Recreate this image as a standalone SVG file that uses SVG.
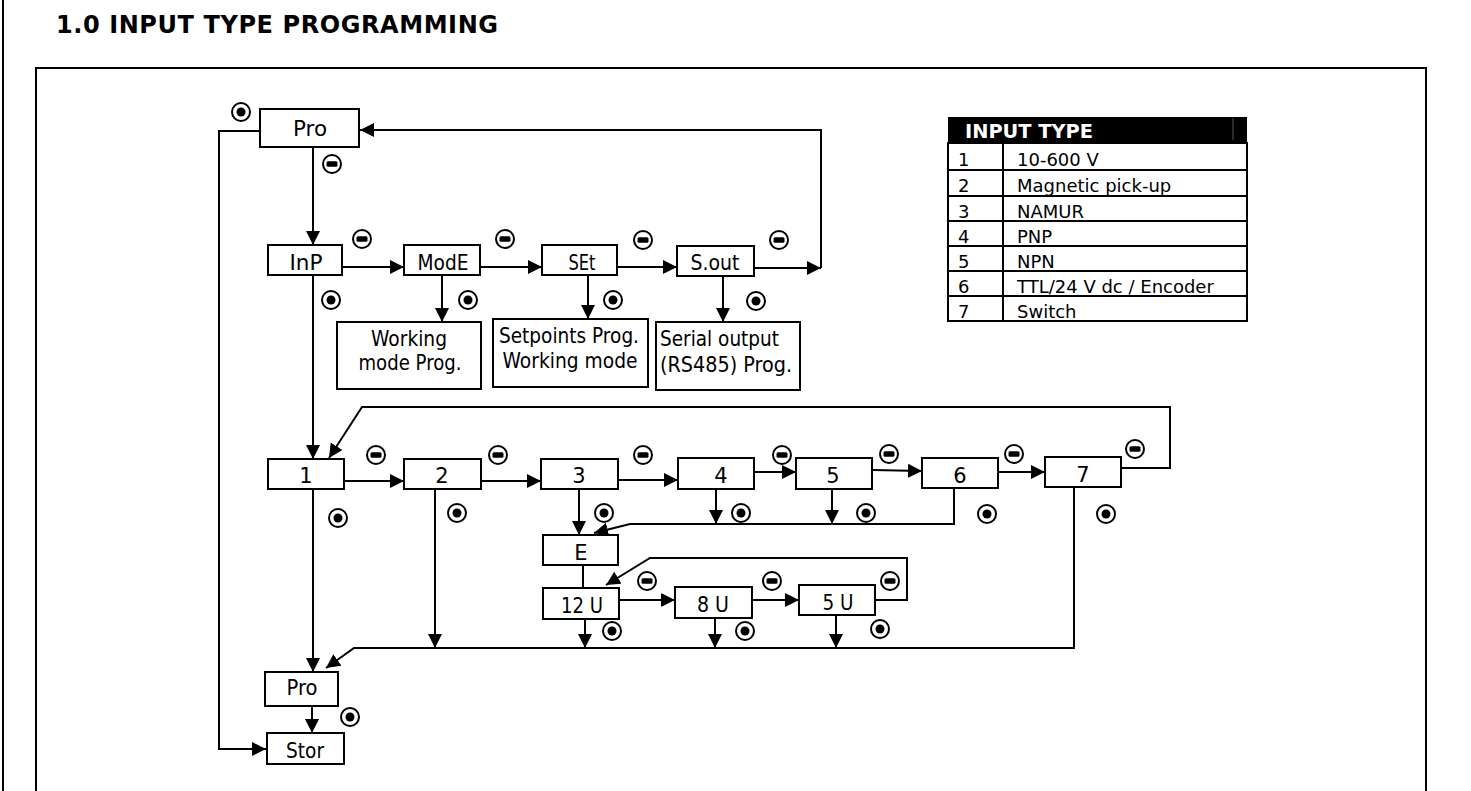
<svg xmlns="http://www.w3.org/2000/svg" width="1471" height="791" viewBox="0 0 1471 791">
<style>
.box{fill:#fff;stroke:#000;stroke-width:2}
.lbl{font-family:"DejaVu Sans",Verdana,sans-serif;font-size:21px;text-anchor:middle;fill:#000}
.txt{font-family:"DejaVu Sans",Verdana,sans-serif;font-size:21px;fill:#000}
.tb{font-family:"DejaVu Sans",Verdana,sans-serif;font-size:18px;fill:#000}
.wire{fill:none;stroke:#000;stroke-width:2}
.arr{fill:none;stroke:#000;stroke-width:2;marker-end:url(#ah)}
.frame{fill:none;stroke:#000;stroke-width:2}
</style>
<defs>
<marker id="ah" markerUnits="userSpaceOnUse" markerWidth="14" markerHeight="14" refX="14" refY="7" orient="auto"><path d="M0,0 L14,7 L0,14 z" fill="#000"/></marker>
<g id="ent"><circle r="9" fill="#fff" stroke="#000" stroke-width="2"/><circle r="4.5" fill="#000"/></g>
<g id="dn"><circle r="9" fill="#fff" stroke="#000" stroke-width="2"/><rect x="-5.5" y="-2.7" width="11" height="5.4" rx="1.5" fill="#000"/></g>
</defs>
<rect width="1471" height="791" fill="#fff"/>
<line x1="3" y1="0" x2="3" y2="791" class="frame"/>
<text x="56" y="33" font-family="'DejaVu Sans',Verdana,sans-serif" font-weight="bold" font-size="24" textLength="442" lengthAdjust="spacing">1.0  INPUT TYPE PROGRAMMING</text>
<rect x="36" y="68" width="1390" height="740" class="frame"/>

<g id="connectors">
<path class="arr" d="M260,131 H219 V749 H266"/>
<path class="arr" d="M313,147 V245"/>
<path class="arr" d="M342,267 H404"/>
<path class="arr" d="M480,267 H542"/>
<path class="arr" d="M617,267 H677"/>
<path class="arr" d="M754,268 H821"/>
<path class="arr" d="M821,268 V130 H360"/>
<path class="arr" d="M442,275 V322"/>
<path class="arr" d="M588,275 V319"/>
<path class="arr" d="M723,276 V322"/>
<path class="arr" d="M313,275 V459"/>
<path class="arr" d="M1121,468 H1170 V407 H362 L329,458"/>
<path class="arr" d="M344,481 H404"/>
<path class="arr" d="M481,481 H541"/>
<path class="arr" d="M618,480 H678"/>
<path class="arr" d="M751,472 H796"/>
<path class="arr" d="M873,470 L922,471"/>
<path class="arr" d="M998,472 H1045"/>
<path class="arr" d="M579,489 V535"/>
<path class="arr" d="M716,489 V524"/>
<path class="arr" d="M832,490 V524"/>
<path class="arr" d="M954,488 V524 H630 L594,533"/>
<path class="wire" d="M583,565 V588"/>
<path class="arr" d="M619,600 H675"/>
<path class="arr" d="M752,600 H799"/>
<path class="arr" d="M875,600 H907 V558 H650 L606,585"/>
<path class="arr" d="M585,619 V648"/>
<path class="arr" d="M715,618 V648"/>
<path class="arr" d="M836,614 V648"/>
<path class="arr" d="M435,489 V648"/>
<path class="arr" d="M1074,487 V648 H354 L326,668"/>
<path class="arr" d="M313,489 V672"/>
<path class="arr" d="M312,706 V733"/>
</g>

<g id="keys">
<use href="#ent" x="241" y="112"/>
<use href="#ent" x="331" y="300"/>
<use href="#ent" x="468" y="300"/>
<use href="#ent" x="613" y="300"/>
<use href="#ent" x="756" y="301"/>
<use href="#ent" x="338" y="518"/>
<use href="#ent" x="457" y="513"/>
<use href="#ent" x="604" y="513"/>
<use href="#ent" x="741" y="513"/>
<use href="#ent" x="866" y="513"/>
<use href="#ent" x="987" y="514"/>
<use href="#ent" x="1106" y="514"/>
<use href="#ent" x="612" y="631"/>
<use href="#ent" x="745" y="631"/>
<use href="#ent" x="880" y="629"/>
<use href="#ent" x="350" y="717"/>
<use href="#dn" x="332" y="164"/>
<use href="#dn" x="362" y="239"/>
<use href="#dn" x="505" y="239"/>
<use href="#dn" x="643" y="240"/>
<use href="#dn" x="779" y="240"/>
<use href="#dn" x="376" y="455"/>
<use href="#dn" x="498" y="455"/>
<use href="#dn" x="643" y="455"/>
<use href="#dn" x="782" y="455"/>
<use href="#dn" x="889" y="454"/>
<use href="#dn" x="1014" y="454"/>
<use href="#dn" x="1135" y="449"/>
<use href="#dn" x="647" y="581"/>
<use href="#dn" x="772" y="581"/>
<use href="#dn" x="890" y="581"/>
</g>

<g id="n-pro-top"><rect class="box" x="260" y="109" width="99" height="38"/><text class="lbl" x="310" y="136" font-size="23" textLength="34" lengthAdjust="spacingAndGlyphs">Pro</text></g>
<g id="n-inp"><rect class="box" x="268" y="245" width="74" height="30"/><text class="lbl" x="306" y="270" textLength="33" lengthAdjust="spacingAndGlyphs">InP</text></g>
<g id="n-mode"><rect class="box" x="404" y="245" width="76" height="30"/><text class="lbl" x="443" y="270" textLength="51" lengthAdjust="spacingAndGlyphs">ModE</text></g>
<g id="n-set"><rect class="box" x="542" y="245" width="75" height="30"/><text class="lbl" x="582" y="270" textLength="27" lengthAdjust="spacingAndGlyphs">SEt</text></g>
<g id="n-sout"><rect class="box" x="677" y="246" width="77" height="30"/><text class="lbl" x="715" y="270" textLength="49" lengthAdjust="spacingAndGlyphs">S.out</text></g>
<g id="n-working"><rect class="box" x="337" y="322" width="144" height="67"/><text class="lbl" x="409" y="346" textLength="76" lengthAdjust="spacingAndGlyphs">Working</text><text class="lbl" x="410" y="370" textLength="103" lengthAdjust="spacingAndGlyphs">mode Prog.</text></g>
<g id="n-setpoints"><rect class="box" x="493" y="319" width="155" height="68"/><text class="lbl" x="569" y="343" textLength="140" lengthAdjust="spacingAndGlyphs">Setpoints Prog.</text><text class="lbl" x="570" y="368" textLength="135" lengthAdjust="spacingAndGlyphs">Working mode</text></g>
<g id="n-serial"><rect class="box" x="656" y="322" width="144" height="68"/><text class="txt" x="660" y="346" textLength="119" lengthAdjust="spacingAndGlyphs">Serial output</text><text class="txt" x="660" y="372" textLength="132" lengthAdjust="spacingAndGlyphs">(RS485) Prog.</text></g>

<g id="n-1"><rect class="box" x="268" y="459" width="76" height="30"/><text class="lbl" x="306" y="483">1</text></g>
<g id="n-2"><rect class="box" x="404" y="459" width="77" height="30"/><text class="lbl" x="442" y="483">2</text></g>
<g id="n-3"><rect class="box" x="541" y="459" width="77" height="30"/><text class="lbl" x="579" y="483">3</text></g>
<g id="n-4"><rect class="box" x="678" y="458" width="76" height="31"/><text class="lbl" x="721" y="483">4</text></g>
<g id="n-5"><rect class="box" x="796" y="458" width="76" height="31"/><text class="lbl" x="833" y="483">5</text></g>
<g id="n-6"><rect class="box" x="922" y="458" width="76" height="30"/><text class="lbl" x="960" y="483">6</text></g>
<g id="n-7"><rect class="box" x="1045" y="457" width="76" height="30"/><text class="lbl" x="1083" y="482">7</text></g>
<g id="n-e"><rect class="box" x="543" y="535" width="75" height="30"/><text class="lbl" x="581" y="560">E</text></g>
<g id="n-12u"><rect class="box" x="543" y="588" width="76" height="31"/><text class="lbl" x="582" y="613" textLength="42" lengthAdjust="spacingAndGlyphs">12 U</text></g>
<g id="n-8u"><rect class="box" x="675" y="587" width="77" height="31"/><text class="lbl" x="713" y="612" textLength="32" lengthAdjust="spacingAndGlyphs">8 U</text></g>
<g id="n-5u"><rect class="box" x="799" y="585" width="76" height="30"/><text class="lbl" x="838" y="610" textLength="31" lengthAdjust="spacingAndGlyphs">5 U</text></g>
<g id="n-pro-bot"><rect class="box" x="265" y="672" width="73" height="34"/><text class="lbl" x="302" y="695" textLength="31" lengthAdjust="spacingAndGlyphs">Pro</text></g>
<g id="n-stor"><rect class="box" x="267" y="733" width="77" height="31"/><text class="lbl" x="305" y="758" textLength="38" lengthAdjust="spacingAndGlyphs">Stor</text></g>

<g id="table">
<rect x="948" y="117" width="299" height="26" fill="#000"/>
<line x1="1233" y1="118" x2="1233" y2="140" stroke="#555" stroke-width="1"/>
<text x="965" y="138" font-family="'DejaVu Sans',Verdana,sans-serif" font-weight="bold" font-size="19" fill="#fff" textLength="128" lengthAdjust="spacingAndGlyphs">INPUT TYPE</text>
<rect x="948" y="143" width="299" height="178" fill="#fff" stroke="#000" stroke-width="2"/>
<g stroke="#000" stroke-width="2">
<line x1="948" y1="170" x2="1247" y2="170"/>
<line x1="948" y1="196" x2="1247" y2="196"/>
<line x1="948" y1="221" x2="1247" y2="221"/>
<line x1="948" y1="246" x2="1247" y2="246"/>
<line x1="948" y1="271" x2="1247" y2="271"/>
<line x1="948" y1="296" x2="1247" y2="296"/>
<line x1="1003" y1="143" x2="1003" y2="321"/>
</g>
<g class="tb">
<text x="958" y="166">1</text><text x="1017" y="166">10-600 V</text>
<text x="958" y="192">2</text><text x="1017" y="192">Magnetic pick-up</text>
<text x="958" y="218">3</text><text x="1017" y="218">NAMUR</text>
<text x="958" y="243">4</text><text x="1017" y="243">PNP</text>
<text x="958" y="268">5</text><text x="1017" y="268">NPN</text>
<text x="958" y="293">6</text><text x="1017" y="293">TTL/24 V dc / Encoder</text>
<text x="958" y="318">7</text><text x="1017" y="318">Switch</text>
</g>
</g>
</svg>
